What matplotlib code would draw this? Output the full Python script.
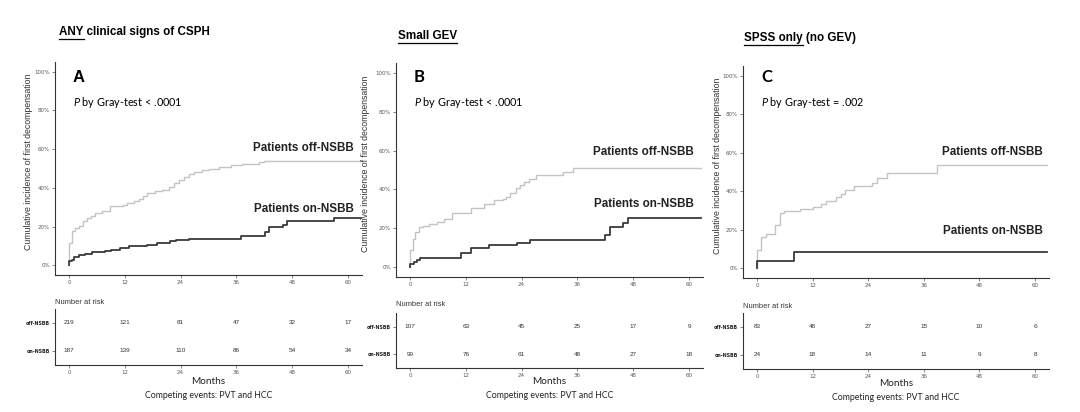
import matplotlib
matplotlib.use("Agg")
import matplotlib.pyplot as plt
from matplotlib.lines import Line2D

plt.rcParams['mathtext.fontset'] = 'custom'
plt.rcParams['mathtext.rm'] = 'Lato'
plt.rcParams['mathtext.it'] = 'Lato:italic'

# ---- datos ----
meses_ticks = [0, 12, 24, 36, 48, 60]
ytick_labels = ['0%', '20%', '40%', '60%', '80%', '100%']

# Panel A - ANY clinical signs of CSPH
a_off_t = [0, 0.05, 0.6, 1.4, 2.2, 3.1, 3.8, 4.8, 5.6, 7.1, 8.9, 11.7, 12.5, 13.9, 15.0, 16.0, 16.8,
           18.6, 20.0, 21.5, 22.5, 23.6, 24.7, 25.8, 26.9, 28.7, 30.1, 32.3, 34.8, 37.3, 40.9, 42.0, 62.8]
a_off_y = [0, 11.5, 17.6, 19.3, 20.5, 22.8, 24.5, 25.7, 27.0, 28.3, 30.5, 31.4, 32.2, 33.1, 34.3, 35.7, 37.4,
           38.3, 39.1, 40.3, 42.6, 44.0, 45.7, 47.2, 48.3, 49.0, 49.8, 50.9, 51.6, 52.4, 53.3, 54.0, 54.0]
a_on_t = [0, 0.1, 0.6, 1.15, 2.2, 3.5, 4.9, 7.8, 9.1, 11.0, 13.0, 16.8, 18.9, 21.8, 23.0, 25.8,
          37.0, 42.1, 42.9, 46.0, 46.8, 56.9, 62.8]
a_on_y = [0, 2.0, 3.0, 4.3, 5.5, 6.0, 6.7, 7.2, 8.0, 9.0, 10.2, 10.7, 11.5, 12.4, 13.3, 13.8,
          15.0, 17.2, 19.6, 21.0, 23.0, 24.6, 24.6]
a_risk_off = [219, 121, 81, 47, 32, 17]
a_risk_on = [187, 139, 110, 86, 54, 34]

# Panel B - Small GEV
b_off_t = [0, 0.05, 0.57, 1.14, 1.86, 2.7, 4.1, 5.9, 7.4, 9.1, 13.1, 15.9, 18.0, 19.9, 20.6, 21.6,
           22.7, 23.6, 24.5, 25.6, 27.0, 33.0, 35.0, 62.5]
b_off_y = [0, 9.0, 14.3, 17.9, 20.5, 21.3, 22.0, 23.3, 25.0, 28.0, 30.5, 32.5, 34.5, 35.2, 36.2, 38.0,
           40.7, 42.4, 44.0, 45.6, 47.2, 48.9, 50.8, 50.8]
b_on_t = [0, 0.05, 0.9, 1.6, 2.1, 10.9, 13.1, 17.0, 23.1, 25.9, 42.0, 42.9, 45.9, 46.8, 62.5]
b_on_y = [0, 1.5, 2.6, 3.6, 5.0, 7.4, 9.9, 11.2, 12.5, 14.2, 16.8, 20.7, 22.8, 25.5, 25.5]
b_risk_off = [107, 63, 45, 25, 17, 9]
b_risk_on = [99, 76, 61, 48, 27, 18]

# Panel C - SPSS only (no GEV)
c_off_t = [0, 0.05, 0.93, 2.0, 4.0, 5.0, 5.95, 9.2, 12.0, 13.8, 15.0, 17.0, 18.1, 19.1, 21.0,
           24.9, 26.0, 28.0, 38.9, 62.6]
c_off_y = [0, 9.5, 16.5, 17.7, 22.5, 28.6, 29.8, 30.7, 32.0, 33.4, 35.2, 36.9, 38.6, 40.7, 42.5,
           44.5, 46.8, 49.7, 53.4, 53.4]
c_on_t = [0, 0.05, 8.0, 62.6]
c_on_y = [0, 4.0, 8.7, 8.7]
c_risk_off = [83, 48, 27, 15, 10, 6]
c_risk_on = [24, 18, 14, 11, 9, 8]

# ---- figura ----
W, H = 1080, 412
fig = plt.figure(figsize=(W / 100, H / 100), dpi=100)
fig.patch.set_facecolor('white')

GRIS_CLARO = '#c4c4c4'
GRIS_OSCURO = '#3a3a3a'
TICK_COL = '#5a5a5a'


def ejes_px(l, t, r, b):
    return fig.add_axes([l / W, 1 - b / H, (r - l) / W, (b - t) / H])


def texto_px(x, y, s, **kw):
    return fig.text(x / W, 1 - y / H, s, **kw)


def estilo(ax):
    for lado in ['top', 'right']:
        ax.spines[lado].set_visible(False)
    for lado in ['left', 'bottom']:
        ax.spines[lado].set_color('#333333')
        ax.spines[lado].set_linewidth(0.8)
    ax.tick_params(length=2, width=0.5, color='#555555', labelcolor=TICK_COL, labelsize=4.0, pad=1.5)
    ax.set_facecolor('white')


def subrayar(x, y, s_total, s_sub, **kw):
    t = texto_px(x, y, s_total, va='center', ha='left', **kw)
    tmp = texto_px(x, y, s_sub, va='center', ha='left', alpha=0, **kw)
    fig.canvas.draw()
    r = fig.canvas.get_renderer()
    bb = tmp.get_window_extent(r)
    tmp.remove()
    yl = bb.y0 - 0.5
    fig.add_artist(Line2D([bb.x0 / W, bb.x1 / W], [yl / H, yl / H], color='black', lw=0.9,
                          transform=fig.transFigure))
    return t


paneles = [
    dict(main=(55, 62, 362, 275), tabla=(55, 309, 362, 365), letra='A', letra_fam='Liberation Sans',
         off=(a_off_t, a_off_y), on=(a_on_t, a_on_y), riesgo=(a_risk_off, a_risk_on),
         pval=r'$\it{P}$ by Gray-test < .0001', y_off=148, y_on=209, lbl_r=354,
         nrisk_y=302, months_y=381, comp_y=396, ylab_x=-0.072),
    dict(main=(396, 63, 703, 277), tabla=(396, 313, 703, 368), letra='B', letra_fam='Lato',
         off=(b_off_t, b_off_y), on=(b_on_t, b_on_y), riesgo=(b_risk_off, b_risk_on),
         pval=r'$\it{P}$ by Gray-test < .0001', y_off=152, y_on=204, lbl_r=694,
         nrisk_y=304, months_y=382, comp_y=396, ylab_x=-0.085),
    dict(main=(743, 66, 1049, 278), tabla=(743, 313, 1049, 369), letra='C', letra_fam='Lato',
         off=(c_off_t, c_off_y), on=(c_on_t, c_on_y), riesgo=(c_risk_off, c_risk_on),
         pval=r'$\it{P}$ by Gray-test = .002', y_off=152, y_on=231, lbl_r=1043,
         nrisk_y=306, months_y=383, comp_y=397, ylab_x=-0.07),
]

for p in paneles:
    l, t, r, b = p['main']
    ax = ejes_px(l, t, r, b)
    estilo(ax)
    ax.step(p['off'][0], [v / 100 for v in p['off'][1]], where='post', color=GRIS_CLARO, lw=1.0)
    ax.step(p['on'][0], [v / 100 for v in p['on'][1]], where='post', color=GRIS_OSCURO, lw=1.3)
    ax.set_xlim(-3, 63)
    ax.set_ylim(-0.05, 1.05)
    ax.set_xticks(meses_ticks)
    ax.set_yticks([0, 0.2, 0.4, 0.6, 0.8, 1.0])
    ax.set_yticklabels(ytick_labels)
    ax.set_ylabel('Cumulative incidence of first decompensation', fontsize=6.3,
                  family='Liberation Sans', color='#333333')
    ax.yaxis.set_label_coords(p['ylab_x'], 0.53)

    # letra del panel y p-valor
    x0 = ax.transData.transform((0, 0))[0]
    texto_px(x0 + 4, 77, p['letra'], fontsize=12, fontweight='bold', family=p['letra_fam'],
             va='center', ha='left')
    texto_px(x0 + 4, 103, p['pval'], fontsize=7.8, family='Lato', va='center', ha='left')

    texto_px(p['lbl_r'], p['y_off'], 'Patients off-NSBB', fontsize=8.4, fontweight='bold',
             family='Liberation Sans', ha='right', va='center', color='#222222')
    texto_px(p['lbl_r'], p['y_on'], 'Patients on-NSBB', fontsize=8.4, fontweight='bold',
             family='Liberation Sans', ha='right', va='center', color='#222222')

    # tabla de pacientes en riesgo
    l2, t2, r2, b2 = p['tabla']
    axr = ejes_px(l2, t2, r2, b2)
    estilo(axr)
    axr.set_xlim(-3, 63)
    axr.set_ylim(0.5, 2.5)
    axr.set_xticks(meses_ticks)
    axr.set_yticks([2, 1])
    axr.set_yticklabels(['off-NSBB', 'on-NSBB'], fontweight='bold', fontsize=3.4, color='#222222')
    for m, n in zip(meses_ticks, p['riesgo'][0]):
        axr.text(m, 2, str(n), ha='center', va='center', fontsize=4.6, color='#333333',
                 family='Liberation Sans')
    for m, n in zip(meses_ticks, p['riesgo'][1]):
        axr.text(m, 1, str(n), ha='center', va='center', fontsize=4.6, color='#333333',
                 family='Liberation Sans')
    texto_px(l2, p['nrisk_y'], 'Number at risk', fontsize=5.4, family='Liberation Sans',
             color='#333333', va='center', ha='left')
    xc = (l2 + r2) / 2
    texto_px(xc, p['months_y'], 'Months', fontsize=7.2, family='Lato', ha='center', va='center',
             color='#222222')
    texto_px(xc, p['comp_y'], 'Competing events: PVT and HCC', fontsize=6.3, family='Lato',
             ha='center', va='center', color='#222222')

# titulos con subrayado
subrayar(59, 32, 'ANY clinical signs of CSPH', 'ANY', fontsize=8.4, fontweight='bold',
         family='Liberation Sans')
subrayar(398, 36, 'Small GEV', 'Small GEV', fontsize=8.4, fontweight='bold',
         family='Liberation Sans')
subrayar(744, 38, 'SPSS only (no GEV)', 'SPSS only', fontsize=8.4, fontweight='bold',
         family='Liberation Sans')

fig.savefig('out.png', dpi=100, facecolor='white')
